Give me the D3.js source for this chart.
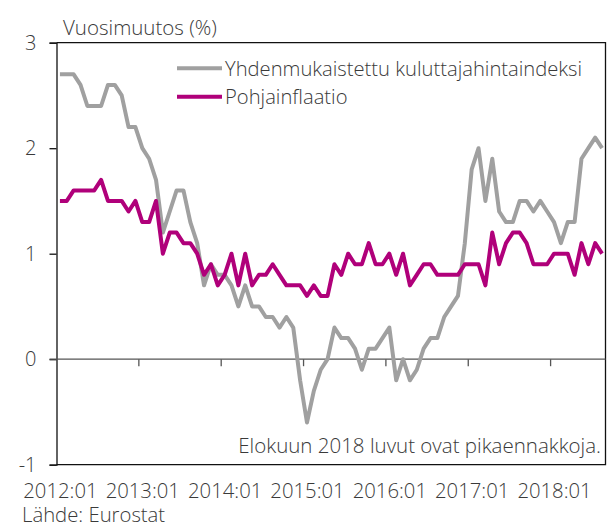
<!DOCTYPE html>
<html><head><meta charset="utf-8">
<script src="https://cdn.jsdelivr.net/npm/d3@7"></script>
<style>
html,body{margin:0;padding:0;background:#fff;}
svg text{font-family:"Open Sans","Lato","DejaVu Sans",sans-serif;font-weight:300;fill:#3a3a3a;}
</style></head>
<body>
<svg id="chart" width="607" height="527"></svg>
<script>
// Months 2012:01 .. 2018:08
const startYear = 2012;
const nMonths = 80;
const months = [];
for (let i = 0; i < nMonths; i++) {
  const yr = startYear + Math.floor(i / 12), m = (i % 12) + 1;
  months.push(yr + ":" + (m < 10 ? "0" + m : m));
}
const tickLabels = ["2012:01","2013:01","2014:01","2015:01","2016:01","2017:01","2018:01"];
const yTicks = [-1, 0, 1, 2, 3];

// Harmonised index of consumer prices (annual change %)
const hicp = [
  2.7,2.7,2.7,2.6,2.4,2.4,2.4,2.6,2.6,2.5,2.2,2.2,
  2.0,1.9,1.7,1.2,1.4,1.6,1.6,1.3,1.1,0.7,0.9,0.8,
  0.8,0.7,0.5,0.7,0.5,0.5,0.4,0.4,0.3,0.4,0.3,-0.2,
  -0.6,-0.3,-0.1,0.0,0.3,0.2,0.2,0.1,-0.1,0.1,0.1,0.2,
  0.3,-0.2,0.0,-0.2,-0.1,0.1,0.2,0.2,0.4,0.5,0.6,1.1,
  1.8,2.0,1.5,1.9,1.4,1.3,1.3,1.5,1.5,1.4,1.5,1.4,
  1.3,1.1,1.3,1.3,1.9,2.0,2.1,2.0
];
// Core inflation
const core = [
  1.5,1.5,1.6,1.6,1.6,1.6,1.7,1.5,1.5,1.5,1.4,1.5,
  1.3,1.3,1.5,1.0,1.2,1.2,1.1,1.1,1.0,0.8,0.9,0.7,
  0.8,1.0,0.7,1.0,0.7,0.8,0.8,0.9,0.8,0.7,0.7,0.7,
  0.6,0.7,0.6,0.6,0.9,0.8,1.0,0.9,0.9,1.1,0.9,0.9,
  1.0,0.8,1.0,0.7,0.8,0.9,0.9,0.8,0.8,0.8,0.8,0.9,
  0.9,0.9,0.7,1.2,0.9,1.1,1.2,1.2,1.1,0.9,0.9,0.9,
  1.0,1.0,1.0,0.8,1.1,0.9,1.1,1.0
];
const seriesNames = ["Yhdenmukaistettu kuluttajahintaindeksi", "Pohjainflaatio"];
const seriesColors = ["#a0a0a0", "#b0007a"];

const svg = d3.select("#chart");
const pL = 56.5, pR = 605.5, pT = 42.7, pB = 464.7;

const x = d3.scalePoint().domain(months).range([pL, pR]).padding(0.5);
const y = d3.scaleLinear().domain([-1, 3]).range([pB, pT]);
const step = x.step();

// Frame (top, right, bottom)
svg.append("path")
  .attr("d", `M${pL},${pT}H${pR}V${pB}H${pL}`)
  .attr("fill", "none").attr("stroke", "#111").attr("stroke-width", 1.3);

// Y axis
const yAxis = svg.append("g").attr("transform", `translate(${pL},0)`)
  .call(d3.axisLeft(y).tickValues(yTicks).tickSize(7).tickPadding(13).tickFormat(d => String(d)));
yAxis.select(".domain").attr("stroke", "#111").attr("stroke-width", 1.3);
yAxis.selectAll(".tick line").attr("stroke", "#111").attr("stroke-width", 1.3);
yAxis.selectAll(".tick text").style("font-size", "20px").attr("fill", "#3a3a3a");

// Zero axis with year ticks (between categories)
const zeroG = svg.append("g");
zeroG.append("line").attr("x1", pL - 7).attr("x2", pR)
  .attr("y1", y(0)).attr("y2", y(0)).attr("stroke", "#555").attr("stroke-width", 1.3);
zeroG.selectAll("line.yt").data(tickLabels.slice(1)).enter().append("line")
  .attr("x1", d => x(d) - step / 2).attr("x2", d => x(d) - step / 2)
  .attr("y1", y(0)).attr("y2", y(0) + 7).attr("stroke", "#555").attr("stroke-width", 1.3);

// X labels below the plot
svg.append("g").attr("transform", `translate(0,${pB})`)
  .call(d3.axisBottom(x).tickValues(tickLabels).tickSize(0).tickPadding(19))
  .call(g => g.select(".domain").remove())
  .selectAll("text").style("font-size", "20.3px").attr("fill", "#3a3a3a");

// Lines
const line = d3.line().x((d, i) => x(months[i])).y(d => y(d));
[hicp, core].forEach((s, k) => {
  svg.append("path").datum(s).attr("d", line)
    .attr("fill", "none").attr("stroke", seriesColors[k])
    .attr("stroke-width", 4).attr("stroke-linejoin", "round");
});

// Legend
const legY = [68.3, 96.7];
seriesNames.forEach((n, k) => {
  svg.append("line").attr("x1", 177).attr("x2", 222).attr("y1", legY[k]).attr("y2", legY[k])
    .attr("stroke", seriesColors[k]).attr("stroke-width", 4);
  svg.append("text").attr("x", 225).attr("y", legY[k] + 7.5).style("font-size", "20.2px").text(n);
});

// Titles / notes
svg.append("text").attr("x", 63).attr("y", 35).style("font-size", "20.5px").text("Vuosimuutos (%)");
svg.append("text").attr("x", 601).attr("y", 453).attr("text-anchor", "end")
  .style("font-size", "20.5px").text("Elokuun 2018 luvut ovat pikaennakkoja.");
svg.append("text").attr("x", 22).attr("y", 522).style("font-size", "20.3px").text("Lähde: Eurostat");
</script>
</body></html>
